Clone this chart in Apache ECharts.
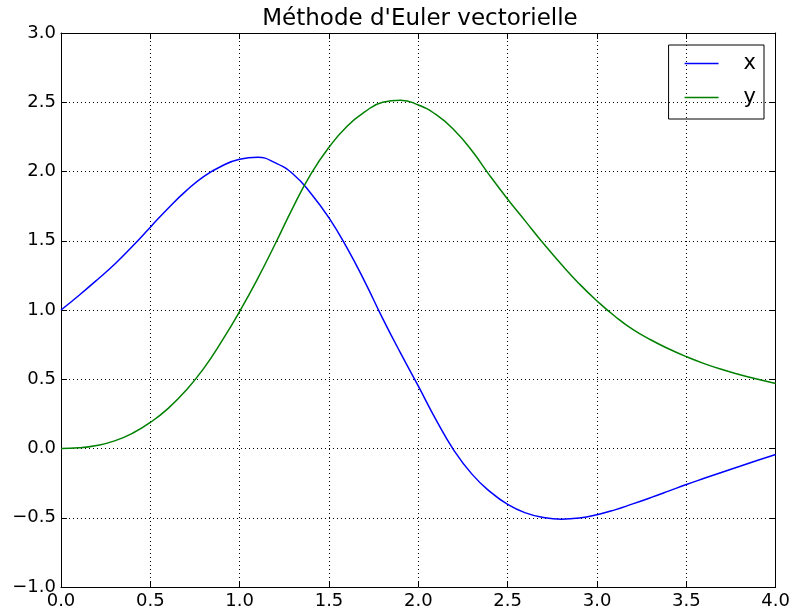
<!DOCTYPE html>
<html>
<head>
<meta charset="utf-8">
<script src="https://cdn.jsdelivr.net/npm/echarts@6/dist/echarts.min.js"></script>
<style>html,body{margin:0;padding:0;background:#fff}#c{width:793px;height:613px}</style>
</head>
<body>
<div id="c"></div>
<script>
const tValues = [0.0,0.1,0.2,0.3,0.4,0.5,0.6,0.7,0.8,0.9,1.0,1.1,1.2,1.3,1.4,1.5,1.6,1.7,1.8,1.9,2.0,2.1,2.2,2.3,2.4,2.5,2.6,2.7,2.8,2.9,3.0,3.1,3.2,3.3,3.4,3.5,3.6,3.7,3.8,3.9,4.0];
const xValues = [1.00,1.105,1.215,1.33,1.46,1.598,1.735,1.86,1.965,2.04,2.088,2.102,2.062,1.98,1.84,1.665,1.45,1.205,0.94,0.69,0.45,0.205,-0.015,-0.185,-0.31,-0.404,-0.465,-0.498,-0.51,-0.502,-0.478,-0.443,-0.40,-0.355,-0.308,-0.26,-0.215,-0.171,-0.128,-0.085,-0.043];
const yValues = [0.00,0.005,0.022,0.055,0.11,0.188,0.29,0.42,0.58,0.775,0.99,1.225,1.48,1.745,1.985,2.175,2.325,2.43,2.50,2.515,2.48,2.41,2.30,2.15,1.97,1.80,1.64,1.48,1.33,1.19,1.065,0.955,0.86,0.785,0.72,0.663,0.613,0.57,0.533,0.50,0.47];
const xTicks = [0.0,0.5,1.0,1.5,2.0,2.5,3.0,3.5,4.0];
const yTicks = [-1.0,-0.5,0.0,0.5,1.0,1.5,2.0,2.5,3.0];
const seriesNames = ['x','y'];
const titleText = "Méthode d'Euler vectorielle";

const font = 'DejaVu Sans';
const fmt = v => v.toFixed(1).replace('-', '\u2212');
const chart = echarts.init(document.getElementById('c'), null, {renderer:'canvas'});
const gridLine = {show:true, lineStyle:{color:'#000', width:1, type:[1,3]}};
const axisLine = {show:true, onZero:false, lineStyle:{color:'#000', width:1}};
const tick = {show:true, inside:true, length:6, lineStyle:{color:'#000', width:1}};
chart.setOption({
  animation:false,
  backgroundColor:'#fff',
  title:{text:titleText, left:415, textAlign:'center', top:3, textStyle:{fontFamily:font, fontSize:23, fontWeight:'normal', color:'#000'}},
  legend:{
    data:seriesNames, orient:'vertical', right:29, top:45,
    icon:'rect', itemWidth:34, itemHeight:1.6, itemGap:13,
    padding:[8,8,11,16], borderColor:'#000', borderWidth:1, borderRadius:0,
    textStyle:{fontFamily:font, fontSize:21, color:'#000', lineHeight:21, padding:[0,0,0,20]}
  },
  grid:{left:61, right:17, top:33, bottom:26, containLabel:false},
  xAxis:[
    {type:'value', min:xTicks[0], max:xTicks[xTicks.length-1], interval:0.5, axisLine, axisTick:tick, splitLine:gridLine,
     axisLabel:{fontFamily:font, fontSize:18, color:'#000', margin:5, formatter:fmt}},
    {type:'value', position:'top', min:xTicks[0], max:xTicks[xTicks.length-1], interval:0.5, axisLine, axisTick:tick, splitLine:{show:false}, axisLabel:{show:false}}
  ],
  yAxis:[
    {type:'value', min:yTicks[0], max:yTicks[yTicks.length-1], interval:0.5, axisLine, axisTick:tick, splitLine:gridLine,
     axisLabel:{fontFamily:font, fontSize:18, color:'#000', margin:5, formatter:fmt}},
    {type:'value', position:'right', min:yTicks[0], max:yTicks[yTicks.length-1], interval:0.5, axisLine, axisTick:tick, splitLine:{show:false}, axisLabel:{show:false}}
  ],
  series:[
    {name:seriesNames[0], type:'line', data:tValues.map((t,i)=>[t,xValues[i]]), smooth:true, symbol:'none', lineStyle:{color:'#0000ff', width:1.5}, itemStyle:{color:'#0000ff'}},
    {name:seriesNames[1], type:'line', data:tValues.map((t,i)=>[t,yValues[i]]), smooth:true, symbol:'none', lineStyle:{color:'#008000', width:1.5}, itemStyle:{color:'#008000'}}
  ]
});
</script>
</body>
</html>
